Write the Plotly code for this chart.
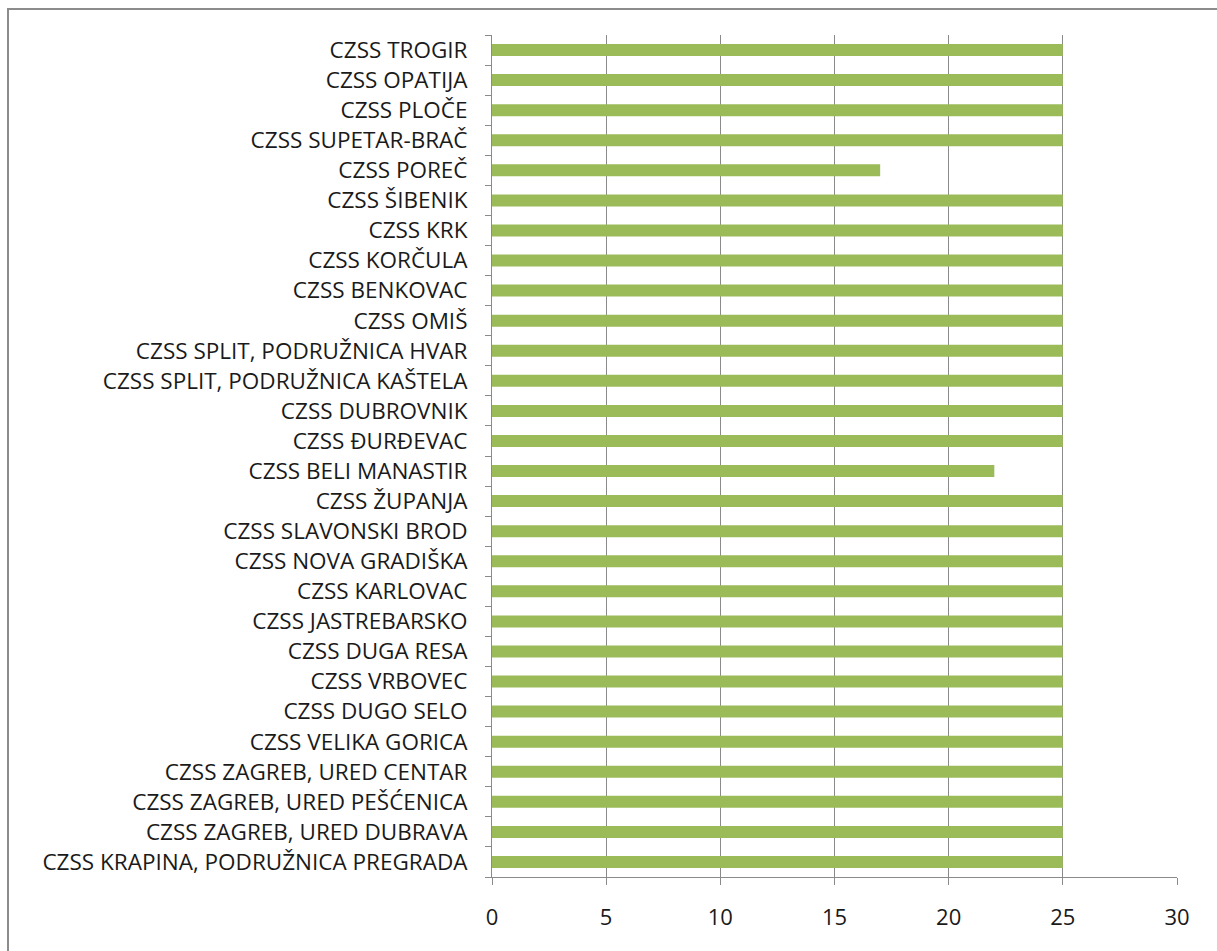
import plotly.graph_objects as go

categories = [
    "CZSS TROGIR",
    "CZSS OPATIJA",
    "CZSS PLOČE",
    "CZSS SUPETAR-BRAČ",
    "CZSS POREČ",
    "CZSS ŠIBENIK",
    "CZSS KRK",
    "CZSS KORČULA",
    "CZSS BENKOVAC",
    "CZSS OMIŠ",
    "CZSS SPLIT, PODRUŽNICA HVAR",
    "CZSS SPLIT, PODRUŽNICA KAŠTELA",
    "CZSS DUBROVNIK",
    "CZSS ĐURĐEVAC",
    "CZSS BELI MANASTIR",
    "CZSS ŽUPANJA",
    "CZSS SLAVONSKI BROD",
    "CZSS NOVA GRADIŠKA",
    "CZSS KARLOVAC",
    "CZSS JASTREBARSKO",
    "CZSS DUGA RESA",
    "CZSS VRBOVEC",
    "CZSS DUGO SELO",
    "CZSS VELIKA GORICA",
    "CZSS ZAGREB, URED CENTAR",
    "CZSS ZAGREB, URED PEŠĆENICA",
    "CZSS ZAGREB, URED DUBRAVA",
    "CZSS KRAPINA, PODRUŽNICA PREGRADA",
]
values = [25, 25, 25, 25, 17, 25, 25, 25, 25, 25, 25, 25, 25, 25,
          22, 25, 25, 25, 25, 25, 25, 25, 25, 25, 25, 25, 25, 25]
x_ticks = [0, 5, 10, 15, 20, 25, 30]

W, H = 1217, 951
L, R, T, B = 492, 1177, 35, 877

fig = go.Figure(go.Bar(
    x=values, y=categories, orientation="h",
    marker=dict(color="#9BBB59", line=dict(width=0)),
    width=0.4,
))

def px_to_paper_x(px):
    return (px - L) / (R - L)

def py_to_paper_y(py):
    return (B - py) / (B - T)

fig.add_shape(type="rect", xref="paper", yref="paper",
              x0=px_to_paper_x(8), x1=px_to_paper_x(1230),
              y0=py_to_paper_y(965), y1=py_to_paper_y(9),
              line=dict(color="#8c8c8c", width=2), fillcolor="rgba(0,0,0,0)",
              layer="below")

fig.update_layout(
    width=W, height=H,
    margin=dict(l=L, r=W - R, t=T, b=H - B),
    paper_bgcolor="white", plot_bgcolor="white",
    showlegend=False,
    font=dict(family="Open Sans", size=22.5, color="#1a1a1a"),
    xaxis=dict(
        range=[0, 30], tickvals=x_ticks, showgrid=True,
        gridcolor="#8a8a8a", gridwidth=1,
        showline=True, linecolor="#8a8a8a", linewidth=1,
        ticks="outside", ticklen=7, tickcolor="#8a8a8a",
        ticklabelstandoff=14, zeroline=False,
        tickfont=dict(size=22),
    ),
    yaxis=dict(
        categoryorder="array", categoryarray=categories[::-1],
        showline=True, linecolor="#8a8a8a", linewidth=1,
        ticks="outside", ticklen=6, tickcolor="#8a8a8a",
        tickson="boundaries", showgrid=False,
        ticklabelstandoff=19,
        tickfont=dict(size=22.5),
        range=[-0.5, len(categories) - 0.5],
    ),
)

fig.write_html("out.html", config={"displayModeBar": False},
               post_script="document.body.style.margin='0';")
